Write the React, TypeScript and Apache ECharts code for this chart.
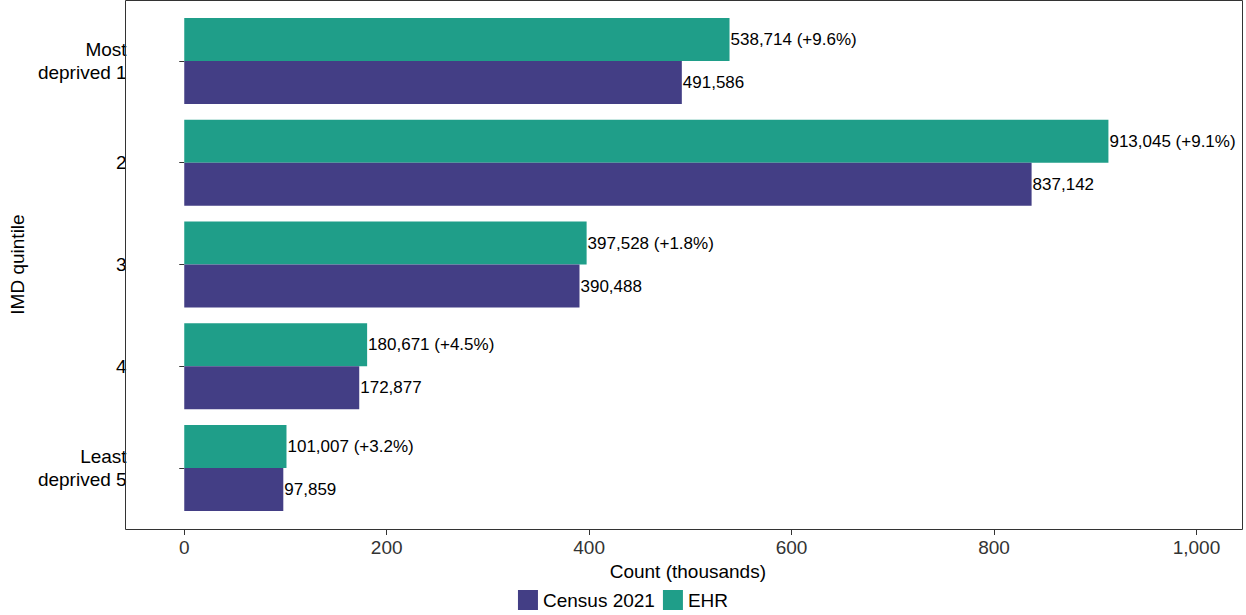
import { useEffect, useRef } from 'react'
import * as echarts from 'echarts'

const categories = ['Most\ndeprived 1', '2', '3', '4', 'Least\ndeprived 5']
const census = [491586, 837142, 390488, 172877, 97859]
const ehr = [538714, 913045, 397528, 180671, 101007]
const ehrChange = ['+9.6%', '+9.1%', '+1.8%', '+4.5%', '+3.2%']
const xTicks = [0, 200, 400, 600, 800, 1000]

const GREEN = '#1f9e89'
const PURPLE = '#433e85'

const fmt = (v: number) => v.toLocaleString('en-US')

export default function App() {
  const chartRef = useRef<HTMLDivElement>(null)

  useEffect(() => {
    document.body.style.margin = '0'
    if (!chartRef.current) return
    const chart = echarts.init(chartRef.current, null, { renderer: 'svg' })
    const font = 'Liberation Sans, Arial, sans-serif'

    chart.setOption({
      animation: false,
      textStyle: { fontFamily: font },
      grid: { left: 125, right: 3, top: 10, bottom: 96 },
      graphic: [
        { type: 'rect', shape: { x: 125.5, y: 0.5, width: 1117, height: 529 }, style: { fill: 'none', stroke: '#333', lineWidth: 1 }, z: 10 },
      ],
      legend: {
        bottom: 0,
        left: 'center',
        itemWidth: 20,
        itemHeight: 20,
        itemGap: 8,
        icon: 'rect',
        textStyle: { fontSize: 19, color: '#000', fontFamily: font },
        data: ['Census 2021', 'EHR'],
      },
      xAxis: {
        type: 'value',
        min: -51,
        max: 1046,
        offset: 11,
        name: 'Count (thousands)',
        nameLocation: 'middle',
        nameGap: 32,
        nameTextStyle: { fontSize: 19, color: '#000' },
        axisLine: { show: false },
        splitLine: { show: false },
        axisTick: { show: true, length: 5, lineStyle: { color: '#333' }, customValues: xTicks },
        axisLabel: { fontSize: 19, color: '#333', customValues: xTicks, formatter: (v: number) => fmt(v) },
      },
      yAxis: {
        type: 'category',
        inverse: true,
        data: categories,
        name: 'IMD quintile',
        nameLocation: 'middle',
        nameGap: 105,
        nameTextStyle: { fontSize: 19, color: '#000' },
        axisLine: { show: false },
        axisTick: { show: true, alignWithLabel: true, length: 5, lineStyle: { color: '#333' } },
        axisLabel: { fontSize: 19, color: '#000', lineHeight: 23, margin: 6 },
      },
      series: [
        {
          name: 'EHR',
          type: 'bar',
          data: ehr.map((v) => v / 1000),
          barWidth: 43,
          barGap: '0%',
          itemStyle: { color: GREEN },
          label: {
            show: true,
            position: 'right',
            distance: 1,
            fontSize: 17,
            color: '#000',
            formatter: (p: any) => `${fmt(ehr[p.dataIndex])} (${ehrChange[p.dataIndex]})`,
          },
        },
        {
          name: 'Census 2021',
          type: 'bar',
          data: census.map((v) => v / 1000),
          barWidth: 43,
          barGap: '0%',
          itemStyle: { color: PURPLE },
          label: {
            show: true,
            position: 'right',
            distance: 1,
            fontSize: 17,
            color: '#000',
            formatter: (p: any) => fmt(census[p.dataIndex]),
          },
        },
      ],
    })

    return () => chart.dispose()
  }, [])

  return <div ref={chartRef} style={{ width: 1246, height: 615 }} />
}
